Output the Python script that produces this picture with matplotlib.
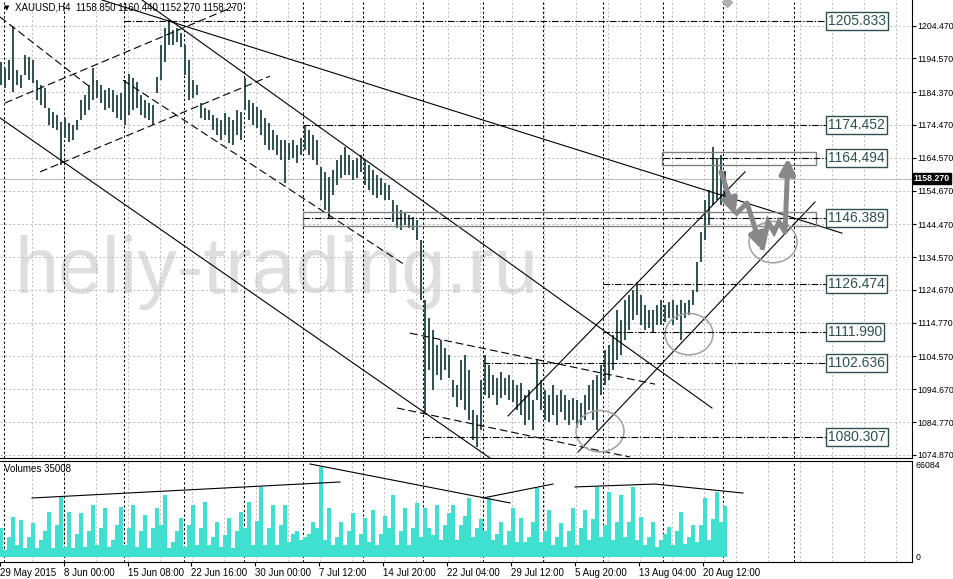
import matplotlib
matplotlib.use("Agg")
import matplotlib.pyplot as plt
from matplotlib import font_manager
from matplotlib.patches import Rectangle, Ellipse
from matplotlib.transforms import blended_transform_factory

highs = [
    1193.5, 1191.7, 1194.1, 1204.0, 1191.1, 1189.5, 1195.6, 1195.0, 1194.1, 1188.0,
    1186.5, 1185.6, 1179.6, 1178.4, 1177.5, 1175.4, 1176.6, 1175.1, 1174.4, 1176.0,
    1182.0, 1183.5, 1186.5, 1191.7, 1188.0, 1186.5, 1185.0, 1185.6, 1185.0, 1183.5,
    1184.1, 1188.0, 1189.9, 1188.6, 1187.4, 1183.5, 1182.0, 1181.1, 1180.5, 1188.9,
    1198.6, 1203.7, 1206.2, 1203.1, 1203.7, 1202.2, 1198.6, 1194.1, 1188.0, 1186.5,
    1181.1, 1179.6, 1179.0, 1177.5, 1176.6, 1176.0, 1178.1, 1176.9, 1176.0, 1179.0,
    1178.4, 1188.6, 1182.0, 1181.1, 1179.9, 1179.0, 1176.6, 1175.1, 1172.9, 1171.4,
    1169.9, 1169.9, 1169.0, 1169.9, 1168.4, 1170.5, 1174.4, 1172.9, 1171.4, 1169.9,
    1161.8, 1160.3, 1158.7, 1160.9, 1163.9, 1165.4, 1167.8, 1165.4, 1163.9, 1164.5,
    1165.4, 1163.9, 1162.4, 1160.9, 1159.3, 1158.4, 1156.9, 1156.3, 1151.8, 1150.3,
    1148.8, 1147.9, 1147.3, 1146.7, 1145.8, 1139.7, 1121.6, 1116.2, 1112.5, 1108.0,
    1109.5, 1107.1, 1105.0, 1097.4, 1095.9, 1103.5, 1105.0, 1100.5, 1088.4, 1086.9,
    1097.4, 1105.0, 1102.0, 1098.9, 1098.0, 1099.9, 1098.0, 1098.9, 1097.4, 1095.9,
    1096.5, 1092.9, 1094.4, 1091.4, 1103.5, 1097.4, 1094.4, 1092.9, 1095.9, 1092.9,
    1094.4, 1092.9, 1091.4, 1092.0, 1091.4, 1090.5, 1092.9, 1095.9, 1097.4, 1098.9,
    1102.0, 1106.5, 1108.0, 1111.0, 1118.6, 1115.6, 1121.6, 1123.1, 1124.6, 1127.0,
    1123.1, 1120.1, 1118.6, 1118.6, 1120.1, 1121.6, 1120.1, 1121.0, 1121.6, 1120.1,
    1121.6, 1120.7, 1121.6, 1124.6, 1133.0, 1142.1, 1151.8, 1154.8, 1167.8, 1164.5,
    1165.4, 1160.44]
lows = [
    1186.5, 1185.6, 1188.0, 1184.4, 1186.5, 1185.6, 1189.5, 1188.0, 1187.1, 1182.0,
    1180.5, 1179.6, 1174.4, 1173.5, 1172.9, 1162.4, 1170.5, 1169.3, 1169.9, 1172.9,
    1176.0, 1177.5, 1179.0, 1182.0, 1182.6, 1181.1, 1179.0, 1179.6, 1178.4, 1176.6,
    1176.0, 1174.4, 1177.5, 1179.0, 1179.6, 1177.5, 1176.6, 1176.0, 1174.4, 1184.1,
    1188.0, 1193.5, 1198.6, 1198.6, 1199.5, 1198.0, 1189.5, 1182.0, 1182.6, 1183.5,
    1176.6, 1176.0, 1176.0, 1172.9, 1171.4, 1169.9, 1171.4, 1169.0, 1168.4, 1171.4,
    1169.9, 1179.0, 1176.0, 1174.4, 1173.5, 1171.4, 1168.4, 1166.9, 1166.9, 1165.4,
    1163.9, 1156.9, 1163.9, 1164.5, 1163.0, 1165.4, 1166.9, 1165.4, 1163.9, 1162.4,
    1151.8, 1148.8, 1146.4, 1153.3, 1156.3, 1158.4, 1159.3, 1159.3, 1157.8, 1158.4,
    1160.3, 1156.3, 1154.8, 1153.3, 1152.4, 1153.3, 1151.8, 1151.8, 1145.2, 1143.3,
    1142.7, 1144.3, 1143.3, 1142.7, 1139.7, 1121.6, 1087.5, 1100.5, 1094.4, 1098.9,
    1097.4, 1100.5, 1098.0, 1092.3, 1089.3, 1091.4, 1088.4, 1085.3, 1079.3, 1077.2,
    1082.3, 1092.9, 1092.0, 1092.9, 1089.9, 1092.0, 1092.9, 1091.4, 1090.8, 1088.4,
    1086.9, 1083.8, 1085.3, 1082.3, 1091.4, 1088.4, 1085.3, 1084.7, 1086.9, 1083.8,
    1087.8, 1085.3, 1083.8, 1085.3, 1082.9, 1083.8, 1085.3, 1088.4, 1085.3, 1082.3,
    1092.9, 1095.9, 1097.4, 1100.5, 1103.5, 1105.0, 1109.5, 1112.5, 1115.6, 1117.1,
    1114.0, 1112.5, 1113.1, 1111.9, 1114.0, 1114.0, 1114.9, 1116.2, 1114.0, 1115.6,
    1109.5, 1116.2, 1117.1, 1120.1, 1124.0, 1133.0, 1139.7, 1144.3, 1150.3, 1151.8,
    1150.3, 1152.27]
# tick volume, thousands
volumes = [
    20, 5, 14, 27.5, 8, 25.5, 6, 14, 23.4, 6,
    12, 18, 31.0, 6, 22, 41.3, 7, 31.0, 6, 16,
    30.3, 7, 18, 35.8, 8, 20, 33.7, 7, 12, 22,
    34.4, 8, 20, 35.8, 7, 18, 28.9, 6, 20, 33.7,
    22, 42.7, 6, 10, 18, 26.8, 7, 22, 35.8, 8,
    20, 37.8, 8, 14, 24.1, 7, 15, 26.8, 6, 18,
    31.0, 20, 37.8, 8, 25, 48.2, 8, 20, 35.8, 8,
    22, 35.8, 10, 16, 18, 12, 14, 16, 24.1, 20,
    61.9, 12, 33.7, 8, 14, 24.1, 8, 18, 30.3, 8,
    16, 26.8, 10, 32.3, 8, 16, 28, 20, 42.7, 8,
    18, 33.7, 8, 20, 37.2, 14, 33.7, 20, 15, 35.8,
    12, 22, 30, 35.8, 12, 22, 28, 40.6, 14, 20,
    26, 18, 40.6, 12, 16, 24.1, 8, 18, 33.7, 10,
    26.8, 10, 14, 24, 47.5, 10, 18, 32.3, 8, 14,
    23.4, 7, 18, 33.7, 8, 20, 32.3, 12, 26, 48.2,
    14, 22, 44.7, 12, 24, 42.7, 14, 24, 48.2, 12,
    27.5, 8, 14, 24.1, 7, 12, 16, 20.6, 8, 18,
    31.0, 9, 14, 22.0, 10, 22, 40.6, 12, 26, 44.7,
    24, 35.0]

price_ticks = [1204.47, 1194.57, 1184.37, 1174.47, 1164.57, 1154.67, 1144.47,
               1134.57, 1124.67, 1114.77, 1104.57, 1094.67, 1084.77, 1074.87]
date_pos = [-0.25, 15.75, 31.75, 47.5, 63.5, 79.5, 95.5, 111.5, 127.5, 143.5, 159.5, 175.5]
date_labels = ['29 May 2015', '8 Jun 00:00', '15 Jun 08:00', '22 Jun 16:00', '30 Jun 00:00',
               '7 Jul 12:00', '14 Jul 20:00', '22 Jul 04:00', '29 Jul 12:00', '5 Aug 20:00',
               '13 Aug 04:00', '20 Aug 12:00']
week_starts = [0.75, 15.75, 30.75, 45.75, 60.75, 75.5, 90.5, 105.5, 120.5, 135.5,
               150.5, 165.5, 180.5, 198.25]

levels = [1205.833, 1174.452, 1164.494, 1146.389, 1126.474, 1111.990, 1102.636, 1080.307]
level_start = [30.75, 75.5, 165.5, 75.5, 150.5, 150.5, 120.5, 105.5]
label_bar = 206.25

solid_lines = [((25.25, 1212.2), (210.25, 1141.8)),
               ((35.25, 1212.2), (177.75, 1089.0)),
               ((-0.25, 1176.6), (122.25, 1073.9)),
               ((126.75, 1086.6), (186.0, 1160.3)),
               ((144.25, 1075.7), (203.5, 1151.2))]
dashed_lines = [((1.0, 1181.1), (58.0, 1210.1)),
                ((9.75, 1160.3), (67.25, 1189.2)),
                ((-0.25, 1207.1), (22.25, 1185.9)),
                ((30.5, 1188.0), (101.0, 1132.2)),
                ((102.25, 1111.6), (163.5, 1096.2)),
                ((99.0, 1089.0), (157.25, 1074.2))]
vol_lines = [[(7.75, 40.6), (84.75, 51.6)],
             [(77.25, 64.0), (127.25, 37.2)],
             [(120.5, 40.6), (138.0, 50.2)],
             [(143.5, 48.2), (163.5, 50.2), (185.5, 44.0)]]
zones = [(165.25, 203.75, 1162.4, 1166.3), (75.5, 203.75, 1143.9, 1148.2)]
circles = [(193.0, 1139.1), (172.0, 1111.3), (149.75, 1082.0)]
forecast = [[(180.0, 1160.3), (183.5, 1147.3)],
            [(183.5, 1147.3), (186.5, 1150.9), (190.25, 1136.7)],
            [(190.25, 1136.7), (191.75, 1145.2), (193.25, 1142.1), (194.5, 1145.2),
             (196.0, 1142.1), (196.75, 1164.5)]]

names = {f.name for f in font_manager.fontManager.ttflist}
narrow = 'Liberation Sans Narrow' if 'Liberation Sans Narrow' in names else None
plt.rcParams['font.family'] = ['Liberation Sans', 'DejaVu Sans']

BAR = '#2f4f4f'
GRID = '#c0c0c0'

fig = plt.figure(figsize=(9.54, 5.79), dpi=100)
ax = fig.add_axes([0, 1 - 458 / 579, 912 / 954, 458 / 579])
axv = fig.add_axes([0, 17 / 579, 912 / 954, 101 / 579])

xs = list(range(len(highs)))
for a in (ax, axv):
    a.set_xlim(-0.25, 227.75)
    for g in range(1, 29):
        a.axvline((32 * g - 1) / 4, color=GRID, ls=(0, (2.2, 2.2)), lw=0.7, zorder=0.5)
    for w in week_starts:
        a.axvline(w, color='black', ls=(0, (2.2, 2.2)), lw=0.75, zorder=1)
    a.spines['left'].set_visible(False)

ax.set_ylim(1073.9, 1212.2)
axv.set_ylim(-3.44, 66.05)

# price panel
for p in price_ticks:
    ax.axhline(p, color=GRID, ls=(0, (2.2, 2.2)), lw=0.7, zorder=0.5)
ax.axhline(1158.27, color=GRID, lw=0.8, zorder=0.6)
if narrow:
    ax.text(3.5, 1123.7, 'heliy-trading.ru', fontsize=69, color='#dedede',
            family=narrow, ha='left', va='baseline', zorder=0.2)
else:
    ax.text(3.5, 1123.7, 'heliy-trading.ru', fontsize=57, color='#dedede',
            ha='left', va='baseline', zorder=0.2)

ax.vlines(xs, lows, highs, color=BAR, lw=1.4, zorder=3)

for (x0, y0), (x1, y1) in solid_lines:
    ax.plot([x0, x1], [y0, y1], color='black', lw=0.8, zorder=4)
for (x0, y0), (x1, y1) in dashed_lines:
    ax.plot([x0, x1], [y0, y1], color='black', lw=0.8, ls=(0, (7, 3.5)), zorder=4)

for x0, x1, y0, y1 in zones:
    ax.add_patch(Rectangle((x0, y0), x1 - x0, y1 - y0, fill=False, ec='#808080', lw=1, zorder=4))
for cx, cy in circles:
    ax.add_patch(Ellipse((cx, cy), 12.0, 12.5, fill=False, ec='#a0a0a0', lw=1.1, zorder=4))

lvl_size = 12 if narrow else 10
for lv, st in zip(levels, level_start):
    ax.plot([st, label_bar], [lv, lv], color='black', lw=0.8,
            ls=(0, (6, 1.6, 1.2, 1.6)), zorder=4)
    ax.text(label_bar + 0.5, lv, f'{lv:.3f}', ha='left', va='center', fontsize=lvl_size,
            family=narrow if narrow else 'Liberation Sans', color=BAR, zorder=6,
            bbox=dict(boxstyle='square,pad=0.15', fc='white', ec=BAR, lw=1))

for path in forecast:
    px = [p[0] for p in path]
    py = [p[1] for p in path]
    ax.plot(px[:-1], py[:-1], color='#888888', lw=3.6, solid_capstyle='butt',
            solid_joinstyle='miter', zorder=5)
    ax.annotate('', xy=path[-1], xytext=path[-2],
                arrowprops=dict(arrowstyle='-|>,head_width=0.45,head_length=0.9',
                                color='#888888', lw=3.6, shrinkA=0, shrinkB=0,
                                mutation_scale=10), zorder=5)

ax.plot([181.5], [1211.6], marker='D', ms=5, color='#b0b0b0', clip_on=False, zorder=6)

ax.yaxis.tick_right()
ax.set_yticks(price_ticks, [f'{p:.3f}' for p in price_ticks])
ax.tick_params(axis='y', length=3, width=0.8, pad=0.8, labelsize=6.3, direction='out')
ax.set_xticks([])
ax.spines['top'].set_visible(False)
trans = blended_transform_factory(ax.transAxes, ax.transData)
ax.text(1.002, 1158.27, '1158.270', transform=trans, ha='left', va='center', fontsize=6.3,
        color='white', fontweight='bold', clip_on=False, zorder=7,
        bbox=dict(boxstyle='square,pad=0.15', fc='black', ec='black'))

fig.text(4 / 954, 1 - 8 / 579, '\u25bc', fontsize=5, va='center', ha='left',
         family='DejaVu Sans')
fig.text(15 / 954, 1 - 8 / 579, 'XAUUSD,H4  1158.850 1160.440 1152.270 1158.270',
         fontsize=7, va='center', ha='left')

# volume panel
axv.bar(xs, volumes, width=1.0, color='#40e0d0', lw=0, zorder=2)
for line in vol_lines:
    axv.plot([p[0] for p in line], [p[1] for p in line], color='black', lw=0.8, zorder=4)
axv.text(0.004, 0.92, 'Volumes 35008', transform=axv.transAxes, fontsize=7,
         va='center', ha='left')
axv.set_yticks([])
vtrans = blended_transform_factory(axv.transAxes, axv.transData)
axv.text(1.004, 66.05, '66084', transform=vtrans, fontsize=6.3, va='top', ha='left')
axv.text(1.004, 0, '0', transform=vtrans, fontsize=6.3, va='center', ha='left')
axv.set_xticks(date_pos, date_labels)
for lbl in axv.get_xticklabels():
    lbl.set_ha('left')
axv.tick_params(axis='x', length=3, width=0.8, pad=1.5, labelsize=7)

fig.savefig('out.png', dpi=100)
